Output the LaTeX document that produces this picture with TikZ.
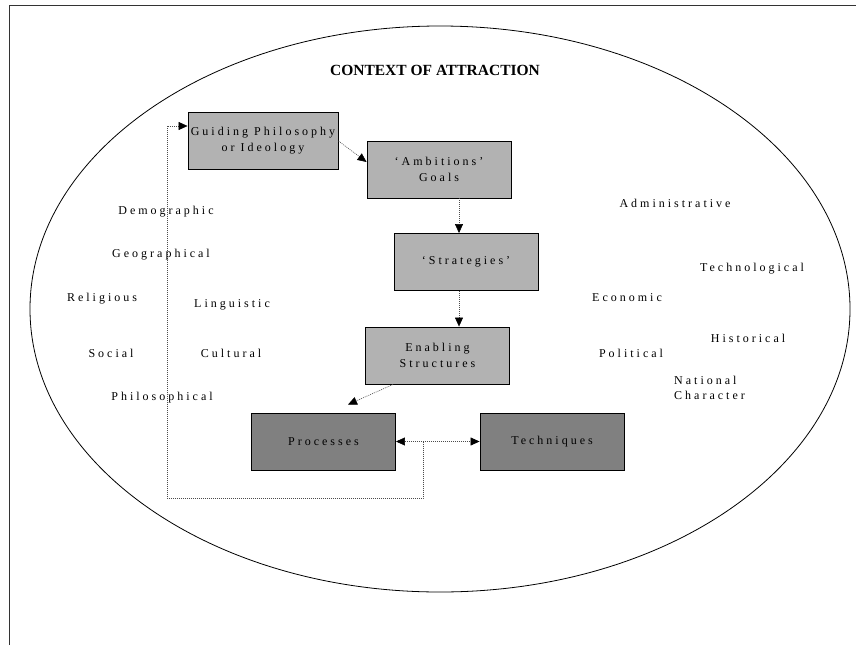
\documentclass[tikz,border=0pt]{standalone}
\usepackage{fontspec}
\setmainfont{Liberation Serif}
\newfontfamily\spacedserif[LetterSpace=25]{Liberation Serif}
\usetikzlibrary{arrows.meta,calc}

\begin{document}
\begin{tikzpicture}[x=1pt,y=-1pt,
  stagebox/.style={draw=black, line width=0.9pt, fill=black!30,
    minimum width=144pt, minimum height=57pt, inner sep=0pt, align=center,
    font=\spacedserif\fontsize{12}{16}\selectfont},
  actionbox/.style={stagebox, fill=black!50},
  factor/.style={anchor=base, inner sep=0pt, align=left,
    font=\spacedserif\fontsize{12}{15}\selectfont},
  tip/.tip={Triangle[length=9pt,width=8pt,color=black]},
  flowline/.style={draw=black!70, line width=0.6pt, dash pattern=on 1pt off 1pt},
  flow/.style={flowline, -tip},
  twoway/.style={flowline, tip-tip}
]
\useasboundingbox (0,0) rectangle (856,645);

% page edge
\draw[line width=0.8pt, black!80] (9,645) -- (9,5) -- (856,5);

% surrounding context
\draw[line width=0.8pt] (440,309) ellipse [x radius=410pt, y radius=283pt];
\node[font=\bfseries\fontsize{15.5}{18}\selectfont] (title) at (435,70) {CONTEXT OF ATTRACTION};

% chain of stages
\node[stagebox, minimum width=150pt] (guide) at (263,141) {Guiding Philosophy\\or Ideology};
\node[stagebox] (amb)   at (439,169.5) {‘Ambitions’\\Goals};
\node[stagebox] (strat) at (466,262)   {‘Strategies’};
\node[stagebox] (enab)  at (437.5,355.5) {Enabling\\Structures};
\node[actionbox] (proc) at (323.5,441.5) {Processes};
\node[actionbox] (tech) at (552,441.5)   {Techniques};

% connectors
\coordinate (colx) at (459,0);
\draw[flow] (guide.east) -- ([yshift=7.5pt]amb.west);
\draw[flow] (amb.south -| colx) -- (strat.north -| colx);
\draw[flow] (strat.south -| colx) -- (enab.north -| colx);
\draw[flow] ([xshift=-44.5pt]enab.south) -- ([xshift=24.5pt,yshift=8pt]proc.north);
\draw[twoway] (proc.east) -- (tech.west);
\coordinate (split) at ($(proc.east)!0.33!(tech.west)$);
\coordinate (loopcorner) at (167,498);
\draw[flow] (split) |- (loopcorner) |- ([yshift=15pt]guide.west);

% contextual factors, left side
\node[factor] (demo)  at (166,214) {Demographic};
\node[factor] (geo)   at (161,257) {Geographical};
\node[factor] (relig) at (102,301) {Religious};
\node[factor] (ling)  at (232,307) {Linguistic};
\node[factor] (soc)   at (111,357) {Social};
\node[factor] (cult)  at (231,357) {Cultural};
\node[factor] (phil)  at (162,400) {Philosophical};

% contextual factors, right side
\node[factor] (admin) at (675,207) {Administrative};
\node[factor] (techn) at (752,271) {Technological};
\node[factor] (econ)  at (627,301) {Economic};
\node[factor] (hist)  at (748,342) {Historical};
\node[factor] (pol)   at (631,357) {Political};
\node[factor, anchor=base west] (nat) at (674,399) {National\\Character};
\end{tikzpicture}
\end{document}
